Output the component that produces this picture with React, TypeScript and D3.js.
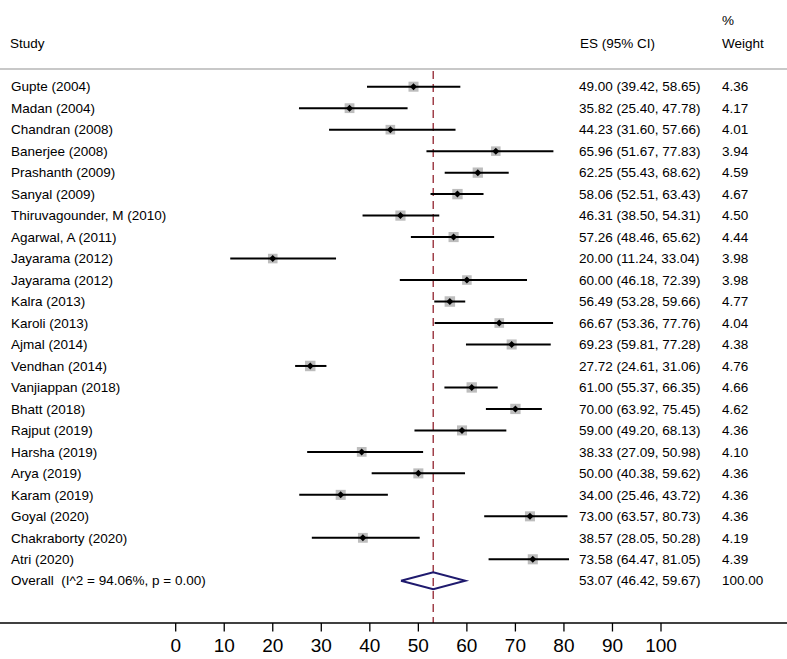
import React from "react";
import * as d3 from "d3";

const studies = [
  "Gupte (2004)", "Madan (2004)", "Chandran (2008)", "Banerjee (2008)", "Prashanth (2009)",
  "Sanyal (2009)", "Thiruvagounder, M (2010)", "Agarwal, A (2011)", "Jayarama (2012)",
  "Jayarama (2012)", "Kalra (2013)", "Karoli (2013)", "Ajmal (2014)", "Vendhan (2014)",
  "Vanjiappan (2018)", "Bhatt (2018)", "Rajput (2019)", "Harsha (2019)", "Arya (2019)",
  "Karam (2019)", "Goyal (2020)", "Chakraborty (2020)", "Atri (2020)",
];
const es = [49.0, 35.82, 44.23, 65.96, 62.25, 58.06, 46.31, 57.26, 20.0, 60.0, 56.49, 66.67, 69.23, 27.72, 61.0, 70.0, 59.0, 38.33, 50.0, 34.0, 73.0, 38.57, 73.58];
const lo = [39.42, 25.4, 31.6, 51.67, 55.43, 52.51, 38.5, 48.46, 11.24, 46.18, 53.28, 53.36, 59.81, 24.61, 55.37, 63.92, 49.2, 27.09, 40.38, 25.46, 63.57, 28.05, 64.47];
const hi = [58.65, 47.78, 57.66, 77.83, 68.62, 63.43, 54.31, 65.62, 33.04, 72.39, 59.66, 77.76, 77.28, 31.06, 66.35, 75.45, 68.13, 50.98, 59.62, 43.72, 80.73, 50.28, 81.05];
const weights = [4.36, 4.17, 4.01, 3.94, 4.59, 4.67, 4.5, 4.44, 3.98, 3.98, 4.77, 4.04, 4.38, 4.76, 4.66, 4.62, 4.36, 4.1, 4.36, 4.36, 4.36, 4.19, 4.39];
const overall = { label: "Overall  (I^2 = 94.06%, p = 0.00)", es: 53.07, lo: 46.42, hi: 59.67, weight: "100.00" };
const xTicks = [0, 10, 20, 30, 40, 50, 60, 70, 80, 90, 100];

const W = 787;
const H = 659;
const font = "'Liberation Sans', Arial, Helvetica, sans-serif";
const FS = 13.5;

export default function App() {
  const x = d3.scaleLinear().domain([0, 100]).range([175.7, 661]);
  const y = d3.scaleLinear().domain([0, 22]).range([86.7, 559.3]);
  const yOverall = y(23);
  const axisY = 623;
  const boxSide = (w: number) => 4.8 * Math.sqrt(w);
  const fmt = (v: number) => v.toFixed(2);

  const diamond = d3.line<[number, number]>()([
    [x(overall.lo), yOverall],
    [x(overall.es), yOverall - 8.5],
    [x(overall.hi), yOverall],
    [x(overall.es), yOverall + 8.5],
    [x(overall.lo), yOverall],
  ]) as string;

  return (
    <svg width={W} height={H} style={{ position: "absolute", left: 0, top: 0, background: "#fff" }} fontFamily={font}>
      <rect x={0} y={0} width={W} height={H} fill="#fff" />
      {/* header */}
      <text x={10} y={48} fontSize={FS} fill="#000">Study</text>
      <text x={580} y={48} fontSize={FS} fill="#000">ES (95% CI)</text>
      <text x={722} y={25} fontSize={FS} fill="#000">%</text>
      <text x={722} y={48} fontSize={FS} fill="#000">Weight</text>
      <line x1={0} x2={W} y1={69} y2={69} stroke="#c8c8c8" strokeWidth={2} />

      {/* null line */}
      <line x1={x(overall.es)} x2={x(overall.es)} y1={71} y2={axisY} stroke="#a0404a" strokeWidth={1.5} strokeDasharray="8,5" />

      {studies.map((s, i) => {
        const cy = y(i);
        const b = boxSide(weights[i]);
        const cx = x(es[i]);
        return (
          <g key={i}>
            <text x={11} y={cy + 4.7} fontSize={FS} fill="#000">{s}</text>
            <rect x={cx - b / 2} y={cy - b / 2} width={b} height={b} fill="#bdbdbd" />
            <line x1={x(lo[i])} x2={x(hi[i])} y1={cy} y2={cy} stroke="#000" strokeWidth={2} />
            <path d={`M${cx - 3.5},${cy} L${cx},${cy - 3.5} L${cx + 3.5},${cy} L${cx},${cy + 3.5} Z`} fill="#000" />
            <text x={579} y={cy + 4.7} fontSize={FS} fill="#000">{`${fmt(es[i])} (${fmt(lo[i])}, ${fmt(hi[i])})`}</text>
            <text x={722} y={cy + 4.7} fontSize={FS} fill="#000">{fmt(weights[i])}</text>
          </g>
        );
      })}

      {/* overall */}
      <text x={11} y={yOverall + 4.7} fontSize={FS} fill="#000" style={{ whiteSpace: "pre" }}>{overall.label}</text>
      <path d={diamond} fill="none" stroke="#1f1a6e" strokeWidth={2} />
      <text x={579} y={yOverall + 4.7} fontSize={FS} fill="#000">{`${fmt(overall.es)} (${fmt(overall.lo)}, ${fmt(overall.hi)})`}</text>
      <text x={722} y={yOverall + 4.7} fontSize={FS} fill="#000">{overall.weight}</text>

      {/* axis */}
      <line x1={0} x2={W} y1={axisY} y2={axisY} stroke="#000" strokeWidth={1.3} />
      {xTicks.map((t) => (
        <g key={t}>
          <line x1={x(t)} x2={x(t)} y1={axisY} y2={axisY + 8.5} stroke="#000" strokeWidth={1.3} />
          <text x={x(t)} y={652.3} fontSize={19} textAnchor="middle" fill="#000">{t}</text>
        </g>
      ))}
    </svg>
  );
}
